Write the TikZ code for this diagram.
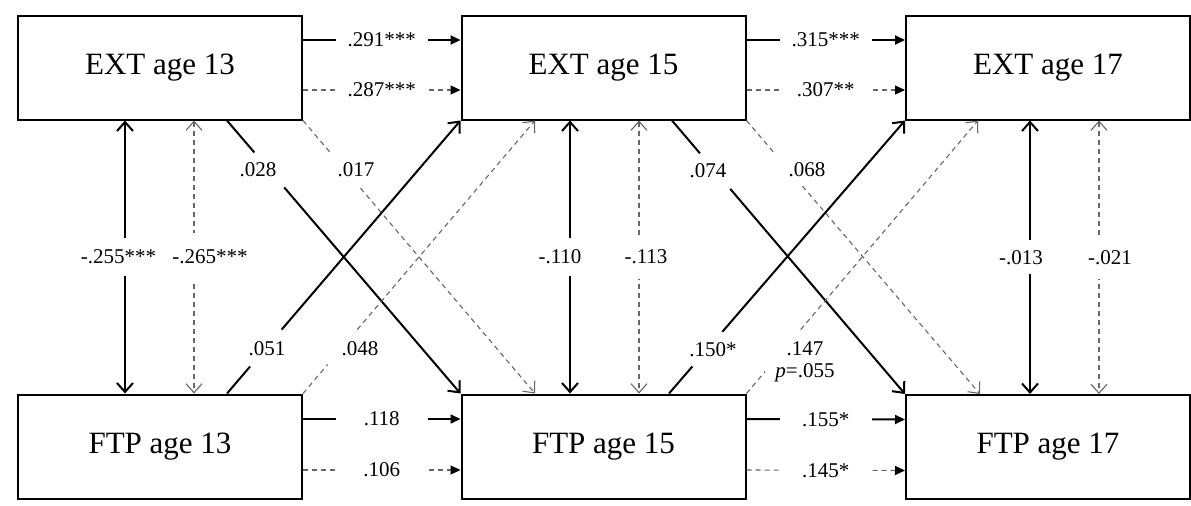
\documentclass[tikz,border=0pt]{standalone}
\usepackage{fontspec}
\setmainfont{Liberation Serif}
\usetikzlibrary{arrows.meta,calc}
\tikzset{
  box/.style={draw, line width=1pt, minimum width=142pt, minimum height=52pt, inner sep=0pt, font=\fontsize{15.5}{18}\selectfont},
  solidln/.style={line width=1pt, black},
  dashln/.style={line width=0.55pt, black!60, dash pattern=on 2.5pt off 2pt},
  hlab/.style={fill=white, minimum width=46pt, inner sep=1pt, font=\fontsize{10.5}{12}\selectfont, text=black},
  vlab/.style={fill=white, minimum height=19pt, inner sep=1pt, font=\fontsize{10.5}{12}\selectfont, text=black},
  dlab/.style={inner sep=0pt, font=\fontsize{10.5}{12}\selectfont, text=black},
  htip/.style={-{Triangle[length=5pt,width=4.5pt,color=black]}},
  vtip/.style={{Straight Barb[length=4.5pt,width=8pt]}-{Straight Barb[length=4.5pt,width=8pt]}},
  dtip/.style={-{Straight Barb[length=4.5pt,width=8pt]}}
}
\begin{document}
\begin{tikzpicture}[x=0.5pt,y=-0.5pt]
\useasboundingbox (0,0) rectangle (1191,505);
% boxes
\node[box] (e13) at (160,67.5) {EXT age 13};
\node[box] (f13) at (160,446.5) {FTP age 13};
\node[box] (e15) at (603.5,67.5) {EXT age 15};
\node[box] (f15) at (603.5,446.5) {FTP age 15};
\node[box] (e17) at (1048,67.5) {EXT age 17};
\node[box] (f17) at (1048,447) {FTP age 17};

% horizontal stability paths
\draw[solidln,htip] ([yshift=13.75pt]e13.east) -- node[hlab] (l1) {.291***} ([yshift=13.75pt]e15.west);
\draw[dashln,htip] ([yshift=-11.25pt]e13.east) -- node[hlab] (l2) {.287***} ([yshift=-11.25pt]e15.west);
\draw[solidln,htip] ([yshift=13.75pt]e15.east) -- node[hlab] (l3) {.315***} ([yshift=13.75pt]e17.west);
\draw[dashln,htip] ([yshift=-11.25pt]e15.east) -- node[hlab] (l4) {.307**} ([yshift=-11.25pt]e17.west);
\draw[solidln,htip] ([yshift=13.75pt]f13.east) -- node[hlab] (l5) {.118} ([yshift=13.75pt]f15.west);
\draw[dashln,htip] ([yshift=-11.75pt]f13.east) -- node[hlab] (l6) {.106} ([yshift=-11.75pt]f15.west);
\draw[solidln,htip] ([yshift=13.75pt]f15.east) -- node[hlab] (l7) {.155*} ([yshift=13.75pt]f17.west);
\draw[dashln,htip] ([yshift=-11.75pt]f15.east) -- node[hlab] (l8) {.145*} ([yshift=-11.75pt]f17.west);

% vertical correlations
\draw[solidln,vtip] ([xshift=-17.5pt]e13.south) -- node[vlab,xshift=-3.25pt] (v1) {-.255***} ([xshift=-17.5pt]f13.north);
\draw[dashln,vtip] ([xshift=17pt]e13.south) -- node[vlab,minimum height=24pt,xshift=8pt] (v2) {-.265***} ([xshift=17pt]f13.north);
\draw[solidln,vtip] ([xshift=-16.75pt]e15.south) -- node[vlab,xshift=-5pt] (v3) {-.110} ([xshift=-16.75pt]f15.north);
\draw[dashln,vtip] ([xshift=17.75pt]e15.south) -- node[vlab,minimum height=22pt,xshift=3.5pt] (v4) {-.113} ([xshift=17.75pt]f15.north);
\draw[solidln,vtip] ([xshift=-9pt]e17.south) -- node[vlab,minimum height=17pt,xshift=-4.5pt] (v5) {-.013} ([xshift=-9pt]f17.north);
\draw[dashln,vtip] ([xshift=25.5pt]e17.south) -- node[vlab,minimum height=22pt,xshift=5.5pt] (v6) {-.021} ([xshift=25.5pt]f17.north);

% cross-lagged paths 13 -> 15
\coordinate (a1) at ([xshift=33.5pt]e13.south);
\draw[solidln] (a1) -- ($(a1)!0.117!(f15.north west)$);
\draw[solidln,dtip] ($(a1)!0.245!(f15.north west)$) -- (f15.north west);
\node[dlab] (d1) at (258,170) {.028};

\coordinate (b1) at ([xshift=-34.25pt]f15.north);
\draw[dashln] (e13.south east) -- ($(e13.south east)!0.117!(b1)$);
\draw[dashln,dtip] ($(e13.south east)!0.248!(b1)$) -- (b1);
\node[dlab] (d2) at (356,170) {.017};

\coordinate (c1) at ([xshift=33.5pt]f13.north);
\draw[solidln] (c1) -- ($(c1)!0.099!(e15.south west)$);
\draw[solidln,dtip] ($(c1)!0.234!(e15.south west)$) -- (e15.south west);
\node[dlab] (d3) at (267,349) {.051};

\coordinate (g1) at ([xshift=-34.25pt]e15.south);
\draw[dashln] (f13.north east) -- ($(f13.north east)!0.106!(g1)$);
\draw[dashln,dtip] ($(f13.north east)!0.234!(g1)$) -- (g1);
\node[dlab] (d4) at (360,349) {.048};

% cross-lagged paths 15 -> 17
\coordinate (a2) at ([xshift=34.25pt]e15.south);
\draw[solidln] (a2) -- ($(a2)!0.12!(f17.north west)$);
\draw[solidln,dtip] ($(a2)!0.25!(f17.north west)$) -- (f17.north west);
\node[dlab] (d5) at (708,171) {.074};

\coordinate (b2) at ([xshift=-34pt]f17.north);
\draw[dashln] (e15.south east) -- ($(e15.south east)!0.117!(b2)$);
\draw[dashln,dtip] ($(e15.south east)!0.24!(b2)$) -- (b2);
\node[dlab] (d6) at (807,170) {.068};

\coordinate (c2) at ([xshift=32.75pt]f15.north);
\draw[solidln] (c2) -- ($(c2)!0.099!(e17.south west)$);
\draw[solidln,dtip] ($(c2)!0.226!(e17.south west)$) -- (e17.south west);
\node[dlab] (d7) at (713,350) {.150*};

\coordinate (g2) at ([xshift=-35pt]e17.south);
\draw[dashln] (f15.north east) -- ($(f15.north east)!0.08!(g2)$);
\draw[dashln,dtip] ($(f15.north east)!0.234!(g2)$) -- (g2);
\node[dlab,align=center] (d8) at (805,362) {.147\\[-1pt]\textit{p}=.055};
\end{tikzpicture}
\end{document}
